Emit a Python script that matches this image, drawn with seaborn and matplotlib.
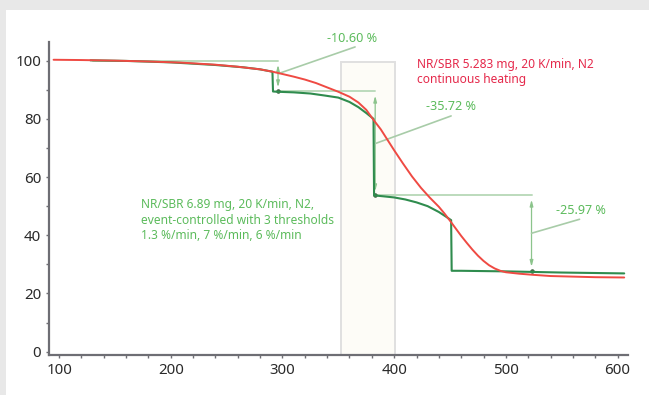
import matplotlib
matplotlib.use("Agg")
import matplotlib.pyplot as plt
from matplotlib.patches import Rectangle
from matplotlib.ticker import MultipleLocator
import numpy as np
import pandas as pd
import seaborn as sns

# Continuous heating run (NR/SBR 5.283 mg)
temp_cont = [95, 120, 150, 180, 210, 240, 260, 280, 291, 300, 310, 320, 330, 340,
             350, 360, 368, 375, 381, 388, 394, 400, 408, 416, 424, 432, 440, 445,
             450, 455, 460, 465, 470, 475, 480, 485, 490, 495, 500, 512, 525, 540,
             560, 580, 606]
mass_cont = [100.3, 100.2, 100.0, 99.7, 99.3, 98.6, 97.9, 97.0, 96.2, 95.4, 94.5,
             93.5, 92.3, 90.8, 89.3, 87.6, 85.6, 83.1, 79.9, 76.4, 72.8, 69.2, 64.6,
             60.2, 56.3, 52.9, 49.8, 47.5, 45.0, 42.4, 39.8, 37.4, 35.1, 33.0, 31.2,
             29.7, 28.6, 27.8, 27.3, 26.8, 26.4, 26.0, 25.8, 25.6, 25.5]

# Event-controlled run (NR/SBR 6.89 mg)
temp_event = [128, 160, 200, 240, 265, 280, 291, 291.5, 296, 310, 325, 338, 350,
              360, 368, 375, 381.5, 382, 390, 400, 410, 420, 430, 440, 446, 451,
              451.5, 460, 500, 550, 606]
mass_event = [100.1, 99.9, 99.4, 98.5, 97.7, 97.0, 96.2, 89.4, 89.3, 89.1, 88.7,
              88.0, 87.3, 85.8, 84.0, 82.0, 80.0, 53.7, 53.4, 53.0, 52.3, 51.3,
              50.0, 48.0, 46.5, 45.2, 27.8, 27.8, 27.6, 27.2, 26.9]

# Mass-loss steps of the event-controlled run
step_levels = [100.0, 89.40, 53.68, 27.71]
step_temps = [296, 383, 523]
level_start = 130

# Highlighted temperature window
window = (352.5, 400.5)
window_top = 99.4

x_ticks = [100, 200, 300, 400, 500, 600]
y_ticks = [0, 20, 40, 60, 80, 100]

red = "#ef4a43"
dark_green = "#2f8c4e"
text_green = "#5cbb5c"
text_red = "#e5294b"
ref_green = "#bcdbbc"
arrow_green = "#8cc48c"

sns.set_theme(style="white")
plt.rcParams["font.family"] = ["Noto Sans", "DejaVu Sans"]

df_cont = pd.DataFrame({"T": temp_cont, "m": mass_cont})
df_event = pd.DataFrame({"T": temp_event, "m": mass_event})

fig = plt.figure(figsize=(6.49, 3.95), dpi=100)
fig.patch.set_facecolor("white")
# grey frame strips along the top and left edges
fig.patches.append(Rectangle((0, 1 - 10 / 395), 1, 10 / 395, transform=fig.transFigure,
                             facecolor="#e8e8e8", edgecolor="none", zorder=0))
fig.patches.append(Rectangle((0, 0), 6 / 649, 1, transform=fig.transFigure,
                             facecolor="#e8e8e8", edgecolor="none", zorder=0))

ax = fig.add_axes([49 / 649, 40 / 395, 579 / 649, 313 / 395])
ax.set_facecolor("none")

ax.set_xlim(90.9, 609.4)
ax.set_ylim(-1.13, 106.4)

# temperature window
ax.add_patch(Rectangle((window[0], -1.13), window[1] - window[0], window_top + 1.13,
                       facecolor="#fdfcf7", edgecolor="#e0e0e0", linewidth=1.4,
                       zorder=0.5))

# step reference lines and arrows
ax.plot([level_start, step_temps[0]], [step_levels[0]] * 2, color=ref_green, lw=1.4, zorder=1)
for i in range(1, 3):
    ax.plot([step_temps[i - 1], step_temps[i]], [step_levels[i]] * 2,
            color=ref_green, lw=1.4, zorder=1)

leader_ends = [(365, 104.7), (451, 81.0), (566, 45.5)]
leader_starts = [95.5, 71.5, 40.7]
label_pos = [(362, 107.5), (451.3, 84.1), (567.6, 48.4)]
for i, t in enumerate(step_temps):
    top, bot = step_levels[i], step_levels[i + 1]
    ax.annotate("", xy=(t, bot), xytext=(t, top),
                arrowprops=dict(arrowstyle="<|-|>,head_length=0.3,head_width=0.08",
                                color=arrow_green, lw=0.9, shrinkA=3, shrinkB=3),
                zorder=1.5)
    ax.plot([t, t], [bot, bot], marker="o", ms=2.0, color="#4a6a4a", zorder=1.6)
    ax.plot([t, leader_ends[i][0]], [leader_starts[i], leader_ends[i][1]],
            color="#a8cca8", lw=1.2, zorder=1.5)
    ax.text(label_pos[i][0], label_pos[i][1], f"{bot - top:.2f} %", color=text_green,
            fontsize=9.1, ha="center", va="center", clip_on=False)

sns.lineplot(data=df_cont, x="T", y="m", color=red, lw=1.4, ax=ax, sort=False,
             estimator=None, zorder=3)
sns.lineplot(data=df_event, x="T", y="m", color=dark_green, lw=1.5, ax=ax, sort=False,
             estimator=None, zorder=2.5)

red_lines = ["NR/SBR 5.283 mg, 20 K/min, N2", "continuous heating"]
for k, line in enumerate(red_lines):
    ax.text(420.4, 97.6 - k * 5.35, line, color=text_red, fontsize=8.6,
            ha="left", va="baseline")

green_lines = ["NR/SBR 6.89 mg, 20 K/min, N2,",
               "event-controlled with 3 thresholds",
               "1.3 %/min, 7 %/min, 6 %/min"]
for k, line in enumerate(green_lines):
    ax.text(173.3, 49.3 - k * 5.35, line, color=text_green, fontsize=8.6,
            ha="left", va="baseline")

ax.set_xlabel("")
ax.set_ylabel("")
ax.set_xticks(x_ticks)
ax.set_yticks(y_ticks)
ax.xaxis.set_minor_locator(MultipleLocator(20))
ax.yaxis.set_minor_locator(MultipleLocator(10))
for s in ["top", "right"]:
    ax.spines[s].set_visible(False)
for s in ["left", "bottom"]:
    ax.spines[s].set_color("#6e6e74")
    ax.spines[s].set_linewidth(1.6)
ax.tick_params(which="both", direction="out", colors="#6e6e74", labelcolor="#2a2a2a",
               labelsize=10.8)
ax.tick_params(which="major", length=2.5, width=1.0, pad=3)
ax.tick_params(which="minor", length=2.0, width=1.0)
ax.tick_params(axis="both", which="both", bottom=True, left=True)
ax.grid(False)

fig.savefig("out.png", dpi=100)
